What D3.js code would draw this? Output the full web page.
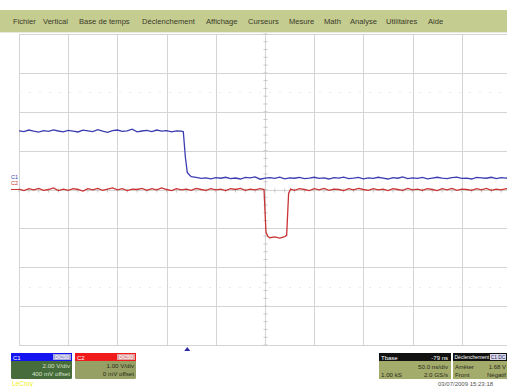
<!DOCTYPE html>
<html><head><meta charset="utf-8">
<script src="https://cdn.jsdelivr.net/npm/d3@7"></script>
<style>
html,body{margin:0;padding:0;background:#fff;overflow:hidden}
svg{display:block;font-family:"Liberation Sans",Arial,sans-serif}
</style></head>
<body>
<svg id="c" width="507" height="387"></svg>
<script>
// ---------- data ----------
const menuItems = ["Fichier","Vertical","Base de temps","Déclenchement","Affichage","Curseurs","Mesure","Math","Analyse","Utilitaires","Aide"];
const timeDomain = [-250, 250];           // ns, 50 ns/div, 10 div
const divDomain = [-4, 4];                // 8 vertical divisions
const c1Scale = {vdiv: 2.0, offset: 0.4}; // 2.00 V/div, 400 mV offset
const c2Scale = {vdiv: 1.0, offset: 0.0}; // 1.00 V/div, 0 mV offset
const triggerTime = -79;                  // ns
// C1 (blue) samples [ns, V]
const c1Data = [
[-250,2.62],[-245,2.58],[-240,2.66],[-235,2.60],[-230,2.55],[-225,2.63],[-220,2.59],[-215,2.67],[-210,2.61],[-205,2.57],
[-200,2.64],[-195,2.60],[-190,2.56],[-185,2.65],[-180,2.62],[-175,2.58],[-170,2.68],[-165,2.60],[-160,2.54],[-155,2.63],
[-150,2.66],[-145,2.59],[-140,2.62],[-135,2.70],[-130,2.57],[-125,2.61],[-120,2.64],[-115,2.58],[-110,2.66],[-105,2.60],
[-100,2.63],[-95,2.57],[-90,2.62],[-85,2.60],[-83,2.57],[-81,1.30],[-79,0.48],[-77,0.36],[-75,0.26],[-70,0.22],
[-65,0.17],[-60,0.20],[-55,0.15],[-50,0.21],[-45,0.18],[-40,0.23],[-35,0.16],[-30,0.19],[-25,0.14],[-20,0.22],
[-15,0.20],[-10,0.25],[-5,0.13],[0,0.19],[5,0.21],[10,0.17],[15,0.24],[20,0.15],[25,0.20],[30,0.18],
[35,0.22],[40,0.16],[45,0.19],[50,0.23],[55,0.17],[60,0.20],[65,0.14],[70,0.21],[75,0.19],[80,0.24],
[85,0.16],[90,0.18],[95,0.22],[100,0.15],[105,0.20],[110,0.17],[115,0.23],[120,0.19],[125,0.14],[130,0.21],
[135,0.18],[140,0.25],[145,0.16],[150,0.20],[155,0.17],[160,0.22],[165,0.15],[170,0.19],[175,0.23],[180,0.18],
[185,0.16],[190,0.21],[195,0.24],[200,0.17],[205,0.19],[210,0.14],[215,0.22],[220,0.20],[225,0.18],[230,0.23],
[235,0.16],[240,0.21],[245,0.19],[250,0.20]
];
// C2 (red) samples [ns, V]
const c2Data = [
[-250,0.01],[-245,-0.03],[-240,0.02],[-235,-0.01],[-230,0.03],[-225,-0.02],[-220,0.00],[-215,0.04],[-210,-0.03],[-205,0.01],
[-200,-0.02],[-195,0.02],[-190,0.00],[-185,-0.04],[-180,0.02],[-175,-0.01],[-170,0.03],[-165,-0.02],[-160,0.01],[-155,0.04],
[-150,-0.01],[-145,0.02],[-140,-0.03],[-135,0.01],[-130,0.00],[-125,0.03],[-120,-0.02],[-115,0.02],[-110,-0.01],[-105,0.04],
[-100,0.00],[-95,-0.03],[-90,0.02],[-85,-0.01],[-80,0.01],[-75,-0.02],[-70,0.03],[-65,0.00],[-60,-0.02],[-55,0.02],
[-50,-0.01],[-45,0.01],[-40,-0.03],[-35,0.02],[-30,0.00],[-25,0.03],[-20,-0.02],[-15,0.01],[-10,-0.01],[-5,0.02],
[-1,0.00],[1,-1.10],[3,-1.21],[5,-1.24],[10,-1.22],[15,-1.25],[20,-1.21],[22,-1.18],[24,-0.10],[26,0.01],
[30,-0.02],[35,0.02],[40,0.00],[45,-0.03],[50,0.02],[55,-0.01],[60,0.03],[65,-0.02],[70,0.01],[75,0.00],
[80,-0.03],[85,0.02],[90,-0.01],[95,0.03],[100,0.00],[105,-0.02],[110,0.02],[115,-0.01],[120,0.01],[125,-0.03],
[130,0.02],[135,0.00],[140,-0.02],[145,0.03],[150,-0.01],[155,0.01],[160,-0.02],[165,0.02],[170,0.00],[175,-0.03],
[180,0.02],[185,-0.01],[190,0.03],[195,-0.02],[200,0.01],[205,0.00],[210,-0.02],[215,0.02],[220,-0.01],[225,0.03],
[230,-0.02],[235,0.01],[240,-0.01],[245,0.02],[250,0.00]
];
const c1Info = ["C1","DC50","2.00 V/div","400 mV offset"];
const c2Info = ["C2","DC50","1.00 V/div","0 mV offset"];
const tbaseInfo = ["Tbase","-79 ns","50.0 ns/div","1.00 kS","2.0 GS/s"];
const trigInfo = ["Déclenchement","C1 DC","Arrêter","1.68 V","Front","Négatif"];
const brand = "LeCroy";
const stamp = "03/07/2009 15:23:18";

// ---------- drawing ----------
const svg = d3.select("#c");
const W = 507, H = 387;
const L = 19, R = 511, T = 34, B = 345;

const x = d3.scaleLinear().domain(timeDomain).range([L, R]);
const yd = d3.scaleLinear().domain(divDomain).range([B, T]);
const y1 = d3.scaleLinear().domain([divDomain[0]*c1Scale.vdiv - c1Scale.offset, divDomain[1]*c1Scale.vdiv - c1Scale.offset]).range([B, T]);
const y2 = d3.scaleLinear().domain([divDomain[0]*c2Scale.vdiv - c2Scale.offset, divDomain[1]*c2Scale.vdiv - c2Scale.offset]).range([B, T]);

// menu bar
svg.append("rect").attr("x",0).attr("y",10).attr("width",W).attr("height",22).attr("fill","#c4cc90");
svg.append("rect").attr("x",0).attr("y",32).attr("width",W).attr("height",1).attr("fill","#e6eadb");
const menuX = [13,43,79,142,206,248,289,324,350,386,428];
svg.selectAll("text.menu").data(menuItems).enter().append("text")
  .attr("class","menu").attr("x",(d,i)=>menuX[i]).attr("y",24)
  .attr("font-size",7.6).attr("fill","#3a3a2a").text(d=>d);

// grid
const g = svg.append("g");
const xt = d3.range(timeDomain[0], timeDomain[1]+1, 50);
const yt = d3.range(divDomain[0], divDomain[1]+1, 1);
g.selectAll("line.vx").data(xt).enter().append("line")
  .attr("x1",d=>Math.round(x(d))+0.5).attr("x2",d=>Math.round(x(d))+0.5)
  .attr("y1",T).attr("y2",B).attr("stroke","#d4d4d4").attr("stroke-width",1);
g.selectAll("line.hy").data(yt).enter().append("line")
  .attr("y1",d=>Math.round(yd(d))+0.5).attr("y2",d=>Math.round(yd(d))+0.5)
  .attr("x1",L).attr("x2",R).attr("stroke","#d4d4d4").attr("stroke-width",1);
// faint dotted rows
[-2.5, 2.5].forEach(v=>{
  g.append("line").attr("x1",L).attr("x2",R).attr("y1",Math.round(yd(v))+0.5).attr("y2",Math.round(yd(v))+0.5)
   .attr("stroke","#ececec").attr("stroke-dasharray","2,8");
});
// center axes minor ticks
const xc = Math.round(x(0))+0.5, yc = Math.round(yd(0))+0.5;
g.selectAll("line.tx").data(d3.range(timeDomain[0], timeDomain[1]+0.1, 10)).enter().append("line")
  .attr("x1",d=>x(d)).attr("x2",d=>x(d)).attr("y1",yc-2).attr("y2",yc+2).attr("stroke","#c8c8c8");
g.selectAll("line.ty").data(d3.range(divDomain[0], divDomain[1]+0.01, 0.2)).enter().append("line")
  .attr("y1",d=>yd(d)).attr("y2",d=>yd(d)).attr("x1",xc-2).attr("x2",xc+2).attr("stroke","#c8c8c8");

// traces
svg.append("clipPath").attr("id","pc").append("rect").attr("x",L).attr("y",T).attr("width",R-L).attr("height",B-T);
const line1 = d3.line().x(d=>x(d[0])).y(d=>y1(d[1]));
const line2 = d3.line().x(d=>x(d[0])).y(d=>y2(d[1]));
svg.append("path").datum(c2Data).attr("d",line2).attr("fill","none").attr("stroke","#c83434").attr("stroke-width",1.3).attr("clip-path","url(#pc)");
svg.append("path").datum(c1Data).attr("d",line1).attr("fill","none").attr("stroke","#3c3cb0").attr("stroke-width",1.3).attr("clip-path","url(#pc)");

// left channel markers
svg.append("text").attr("x",11).attr("y",179).attr("font-size",5.5).attr("fill","#3c3cb0").text("C1");
svg.append("text").attr("x",11).attr("y",185).attr("font-size",5.5).attr("fill","#c83434").text("C2");
svg.append("line").attr("x1",11).attr("x2",19).attr("y1",y2(0)).attr("y2",y2(0)).attr("stroke","#c83434").attr("stroke-width",1);

// trigger marker
const tx = x(triggerTime);
svg.append("path").attr("d",`M${tx},${B+2}L${tx-3},${B+6}L${tx+3},${B+6}Z`).attr("fill","#2a2aa0");

// channel boxes
function chanBox(x0, info, headCol, badgeCol, bodyCol, txtCol){
  const w = 61, y0 = 353;
  svg.append("rect").attr("x",x0).attr("y",y0).attr("width",w).attr("height",26).attr("fill",bodyCol).attr("rx",1.5);
  svg.append("rect").attr("x",x0).attr("y",y0).attr("width",w).attr("height",8).attr("fill",headCol);
  svg.append("rect").attr("x",x0+w-19).attr("y",y0+1).attr("width",18).attr("height",6).attr("fill",badgeCol);
  svg.append("text").attr("x",x0+2).attr("y",y0+6.5).attr("font-size",6).attr("fill","#fff").text(info[0]);
  svg.append("text").attr("x",x0+w-10).attr("y",y0+6.3).attr("font-size",5.5).attr("text-anchor","middle").attr("fill","#fff").text(info[1]);
  svg.append("text").attr("x",x0+w-2).attr("y",y0+15).attr("font-size",6.2).attr("text-anchor","end").attr("fill",txtCol).text(info[2]);
  svg.append("text").attr("x",x0+w-2).attr("y",y0+23).attr("font-size",6.2).attr("text-anchor","end").attr("fill",txtCol).text(info[3]);
}
chanBox(11, c1Info, "#1414f0", "#a8a8d8", "#476c3c", "#d8e0c8");
chanBox(75, c2Info, "#f01c1c", "#e0a0a0", "#96a064", "#2a2a1a");

svg.append("text").attr("x",12).attr("y",386).attr("font-size",6.5).attr("fill","#f0f020").text(brand);

// timebase box
(function(){
  const x0 = 379, y0 = 353, w = 72;
  svg.append("rect").attr("x",x0).attr("y",y0).attr("width",w).attr("height",26).attr("fill","#a4ac6c");
  svg.append("rect").attr("x",x0).attr("y",y0).attr("width",w).attr("height",8).attr("fill","#111");
  svg.append("text").attr("x",x0+2).attr("y",y0+6.5).attr("font-size",6).attr("fill","#fff").text(tbaseInfo[0]);
  svg.append("text").attr("x",x0+w-3).attr("y",y0+6.5).attr("font-size",6).attr("text-anchor","end").attr("fill","#fff").text(tbaseInfo[1]);
  svg.append("text").attr("x",x0+w-3).attr("y",y0+15.5).attr("font-size",6.2).attr("text-anchor","end").attr("fill","#2a2a1a").text(tbaseInfo[2]);
  svg.append("text").attr("x",x0+2).attr("y",y0+23.5).attr("font-size",6.2).attr("fill","#2a2a1a").text(tbaseInfo[3]);
  svg.append("text").attr("x",x0+w-3).attr("y",y0+23.5).attr("font-size",6.2).attr("text-anchor","end").attr("fill","#2a2a1a").text(tbaseInfo[4]);
})();
// trigger box
(function(){
  const x0 = 453, y0 = 353, w = 54;
  svg.append("rect").attr("x",x0).attr("y",y0).attr("width",w).attr("height",26).attr("fill","#a4ac6c");
  svg.append("rect").attr("x",x0).attr("y",y0).attr("width",w).attr("height",8).attr("fill","#111");
  svg.append("text").attr("x",x0+1.5).attr("y",y0+6.3).attr("font-size",5).attr("fill","#fff").text(trigInfo[0]);
  svg.append("rect").attr("x",x0+37).attr("y",y0+1).attr("width",16).attr("height",6).attr("fill","#d8d8e8");
  svg.append("text").attr("x",x0+45).attr("y",y0+6.2).attr("font-size",4.8).attr("text-anchor","middle").attr("fill","#1a1a60").text(trigInfo[1]);
  svg.append("text").attr("x",x0+2).attr("y",y0+15.5).attr("font-size",6.2).attr("fill","#2a2a1a").text(trigInfo[2]);
  svg.append("text").attr("x",x0+w-1).attr("y",y0+15.5).attr("font-size",6).attr("text-anchor","end").attr("fill","#2a2a1a").text(trigInfo[3]);
  svg.append("text").attr("x",x0+2).attr("y",y0+23.5).attr("font-size",6.2).attr("fill","#2a2a1a").text(trigInfo[4]);
  svg.append("text").attr("x",x0+w-1).attr("y",y0+23.5).attr("font-size",6).attr("text-anchor","end").attr("fill","#2a2a1a").text(trigInfo[5]);
})();
svg.append("text").attr("x",438).attr("y",386).attr("font-size",6).attr("fill","#555").text(stamp);
</script>
</body></html>
